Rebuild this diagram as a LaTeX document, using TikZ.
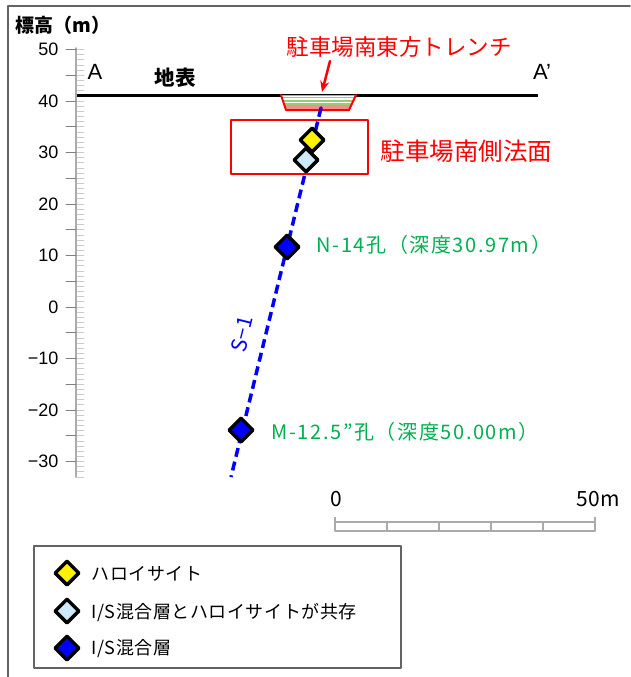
\documentclass[tikz,border=0pt]{standalone}
\usepackage{fontspec}
\setmainfont{Liberation Sans}
\newfontfamily\jp{Noto Sans CJK JP}
\newfontfamily\jpwide[LetterSpace=8]{Noto Sans CJK JP}
\newfontfamily\jpleg[LetterSpace=3]{Noto Sans CJK JP}
\usetikzlibrary{shapes.geometric,arrows.meta}

\definecolor{labgreen}{RGB}{0,176,80}
\definecolor{mixblue}{RGB}{206,234,250}
\definecolor{trenchred}{RGB}{246,140,140}
\definecolor{trenchgreen}{RGB}{150,205,110}
\definecolor{framegray}{RGB}{100,100,100}
\definecolor{rulegray}{RGB}{170,170,170}

\tikzset{
  sample/.style={diamond, draw=black, line width=3.5pt, inner sep=0pt,
    minimum width=25pt, minimum height=25pt},
  halloy/.style={sample, fill=yellow},
  mixed/.style={sample, fill=mixblue},
  islayer/.style={sample, fill=blue},
  holelabel/.style={anchor=west, text=labgreen, font=\jpwide\fontsize{20}{22}\selectfont},
  redlabel/.style={text=red, font=\jp\fontsize{22}{24}\selectfont},
  legendtext/.style={anchor=west, font=\jpleg\fontsize{18}{20}\selectfont},
}

\begin{document}
\begin{tikzpicture}[line cap=round,line join=round,x=1pt,y=-1pt]
	\useasboundingbox (0,0) rectangle (630,677);
	\fill [white] (0,0) rectangle (630,677);
	\draw [framegray, line width=1.5pt] (8,677) -- (8,6) -- (630,6);

	% elevation axis
	\node (ytitle) [anchor=west, font=\jp\bfseries\fontsize{19}{20}\selectfont] at (12,25) {標高（m）};
	\draw [rulegray, line width=1.5pt] (76,48) -- (76,477);
	\foreach \v in {-33,...,50}
		\draw [rulegray!60, line width=0.8pt] (77,{307-5.15*\v}) -- (84,{307-5.15*\v});
	\foreach \v in {-30,-25,...,50}
		\draw [gray, line width=1pt] (66,{307-5.15*\v}) -- (76,{307-5.15*\v});
	\foreach \v/\t in {50/50,40/40,30/30,20/20,10/10,0/0,-10/−10,-20/−20,-30/−30}
		\node (tick\v) [anchor=east, font=\fontsize{18}{20}\selectfont] at (62,{307-5.15*\v}) {\t};

	% ground surface
	\coordinate (gl) at (77,95);
	\coordinate (gr) at (538,95);
	\draw [line width=3pt, line cap=butt] (gl) -- (gr);
	\node (ptA) [font=\fontsize{22}{24}\selectfont] at (95,72) {A};
	\node (ptB) [font=\fontsize{22}{24}\selectfont] at (542,72) {A’};
	\node (surf) [font=\jp\bfseries\fontsize{20.5}{22}\selectfont] at (175,78) {地表};

	% trench
	\fill [trenchred] (281,95) -- (356,95) -- (349,110) -- (286,110) -- cycle;
	\fill [white] (281.5,96) -- (355.5,96) -- (352,104) -- (284,104) -- cycle;
	\draw [trenchgreen, line width=1.2pt] (282,97.5) -- (355,97.5);
	\draw [trenchgreen, line width=1.2pt] (283,101) -- (353.5,101);
	\draw [trenchgreen, line width=1.2pt] (284.5,104) -- (352,104);
	\draw [red, line width=2pt] (281,95) -- (286,110) -- (349,110) -- (356,95);
	\node (trench) [redlabel, font=\jp\fontsize{22.5}{24}\selectfont] at (399,47) {駐車場南東方トレンチ};
	\coordinate (trtop) at (322,92);
	\draw [red, line width=2.5pt, -{Stealth[length=11pt,width=9pt]}] (330,61) -- (trtop);

	% slope outcrop
	\draw [red, line width=2.5pt, line cap=butt] (231,120) rectangle (368,174);
	\node (slope) [redlabel, anchor=west, font=\jp\fontsize{24.5}{26}\selectfont] at (377,151) {駐車場南側法面};

	% borehole S-1
	\coordinate (s1top) at (321,108);
	\coordinate (s1bot) at (231,477);
	\draw [blue, line width=3.5pt, line cap=butt, dash pattern=on 9pt off 5pt] (s1top) -- (s1bot);
	\fill [blue!60!red] (s1top) circle (1.8pt);
	\node (s1) [text=blue, rotate=76, font=\jp\fontsize{21}{22}\selectfont] at (242,334) {S−1};

	% samples
	\node (h1) [halloy] at (312,140) {};
	\node (m1) [mixed] at (306,160) {};
	\node (n14) [islayer] at (287,247) {};
	\node (m12) [islayer] at (241,430) {};
	\node (n14lab) [holelabel] at (313,245) {N-14孔（深度30.97m）};
	\node (m12lab) [holelabel] at (268,432) {M-12.5”孔（深度50.00m）};

	% scale bar
	\draw [rulegray, line width=1.2pt, line cap=butt] (335,517) -- (335,531) -- (595,531) -- (595,517);
	\draw [rulegray, line width=1.2pt] (335,522) -- (595,522);
	\foreach \x in {387,439,491,543}
		\draw [rulegray, line width=1.2pt] (\x,522) -- (\x,531);
	\node (sc0) [font=\jp\fontsize{21}{24}\selectfont] at (336,499) {0};
	\node (sc50) [anchor=east, font=\jp\fontsize{21}{24}\selectfont] at (623,499) {50m};

	% legend
	\draw [framegray, line width=1.2pt] (34,546) rectangle (401,668);
	\node (lg1) [halloy] at (67,573) {};
	\node (lg2) [mixed] at (67,611) {};
	\node (lg3) [islayer] at (67,648) {};
	\node (lt1) [legendtext] at (88,574) {ハロイサイト};
	\node (lt2) [legendtext] at (88,612) {I/S混合層とハロイサイトが共存};
	\node (lt3) [legendtext] at (88,649) {I/S混合層};
\end{tikzpicture}
\end{document}
